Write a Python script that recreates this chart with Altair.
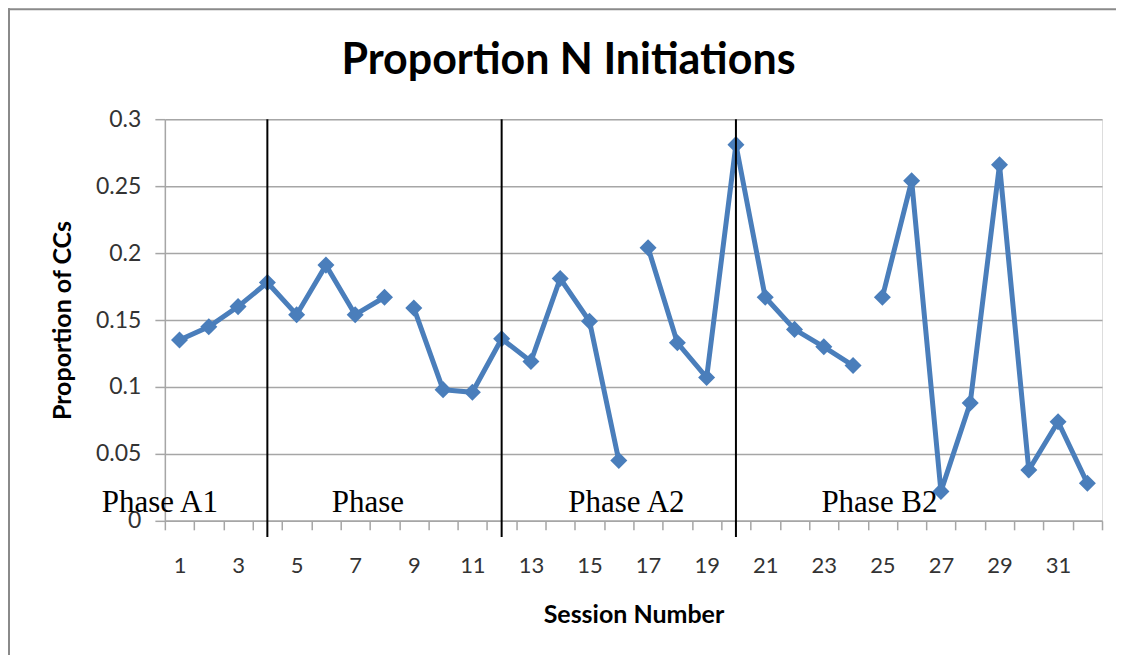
import altair as alt
import pandas as pd

title_text = ["Proportion N Initiations"]

sessions = list(range(1, 33))
values = [0.135, 0.145, 0.160, 0.178, 0.154, 0.191, 0.154, 0.167,
          0.159, 0.098, 0.096, 0.136, 0.119, 0.181, 0.149, 0.045,
          0.204, 0.133, 0.107, 0.281, 0.167, 0.143, 0.130, 0.116,
          0.167, 0.254, 0.022, 0.088, 0.266, 0.038, 0.074, 0.028]
segments = [1]*8 + [2]*8 + [3]*8 + [4]*8

phase_lines = [4, 12, 20]
phase_labels = ["Phase A1", "Phase", "Phase A2", "Phase B2"]
phase_label_x = [0.33, 7.43, 16.26, 24.9]
phase_label_y = [0.0134] * 4

y_tick_values = [0, 0.05, 0.1, 0.15, 0.2, 0.25, 0.3]
x_label_values = list(range(1, 33, 2))
x_tick_values = [i + 0.5 for i in range(0, 33)]

df = pd.DataFrame({"session": sessions, "value": values, "seg": segments})
lines_df = pd.DataFrame({"x": phase_lines, "value": [0.3]*3, "y2": [-0.012]*3})
labels_df = pd.DataFrame({"x": phase_label_x, "value": phase_label_y, "text": phase_labels})
title_df = pd.DataFrame({"t": title_text})

BLUE = "#4a7ebb"
GRAY = "#a6a6a6"
FONT = "Lato"

xscale = alt.Scale(domain=[0.5, 32.5], nice=False, zero=False)
yscale = alt.Scale(domain=[0, 0.3], nice=False)

yaxis = alt.Axis(values=y_tick_values,
                 labelExpr="format(datum.value, '')",
                 tickSize=10, tickColor=GRAY, tickWidth=1.5,
                 domainColor=GRAY, domainWidth=1.5,
                 gridColor=GRAY, gridWidth=1.5,
                 labelFont=FONT, labelFontSize=23, labelColor="#333333",
                 labelPadding=14,
                 title="Proportion of CCs", titleFont=FONT,
                 titleFontSize=25, titleFontWeight="bold",
                 titleColor="#000000", titlePadding=20)

Y = alt.Y("value:Q", scale=yscale, axis=yaxis)

line = alt.Chart(df).mark_line(color=BLUE, strokeWidth=5).encode(
    x=alt.X("session:Q", scale=xscale,
            axis=alt.Axis(values=x_tick_values, labels=False, ticks=True,
                          tickSize=9, tickColor=GRAY, tickWidth=1.5,
                          domainColor=GRAY, domainWidth=1.5, grid=False,
                          title=None, orient="bottom")),
    y=Y,
    detail="seg:N",
)

points = alt.Chart(df).mark_point(shape="diamond", filled=True, color=BLUE,
                                  size=290, opacity=1).encode(
    x=alt.X("session:Q", scale=xscale,
            axis=alt.Axis(values=x_label_values, ticks=False, domain=False,
                          grid=False, labelFont=FONT, labelFontSize=22,
                          labelColor="#333333", labelPadding=35,
                          title="Session Number", titleFont=FONT,
                          titleFontSize=25, titleFontWeight="bold",
                          titleColor="#000000", titlePadding=26,
                          orient="bottom")),
    y=Y,
)

rules = alt.Chart(lines_df).mark_rule(color="black", strokeWidth=2, clip=False).encode(
    x=alt.X("x:Q", scale=xscale, axis=None),
    y=Y,
    y2="y2:Q",
)

texts = alt.Chart(labels_df).mark_text(font="Liberation Serif", fontSize=31,
                                       color="black", baseline="middle",
                                       align="center").encode(
    x=alt.X("x:Q", scale=xscale, axis=None),
    y=Y,
    text="text:N",
)

title = alt.Chart(title_df).mark_text(font=FONT, fontSize=43, fontWeight="bold",
                                      color="black", baseline="middle",
                                      align="center").encode(
    x=alt.value(404), y=alt.value(-58), text="t:N")

frame_df = pd.DataFrame({"a": [0]})
border_top = alt.Chart(frame_df).mark_rule(color="#8a8a8a", strokeWidth=2).encode(
    x=alt.value(-157), x2=alt.value(1000), y=alt.value(-110))
border_left = alt.Chart(frame_df).mark_rule(color="#8a8a8a", strokeWidth=2).encode(
    x=alt.value(-156), y=alt.value(-111), y2=alt.value(700))

chart = alt.layer(border_top, border_left, line, points, rules, texts, title).resolve_axis(
    x="independent"
).properties(
    width=938, height=402,
    padding={"left": 157, "top": 111, "right": 14, "bottom": 134},
    autosize=alt.AutoSizeParams(type="none"),
).configure_view(strokeWidth=0).configure(background="white")

chart.save("out.html", embed_options={"renderer": "svg", "actions": False})
